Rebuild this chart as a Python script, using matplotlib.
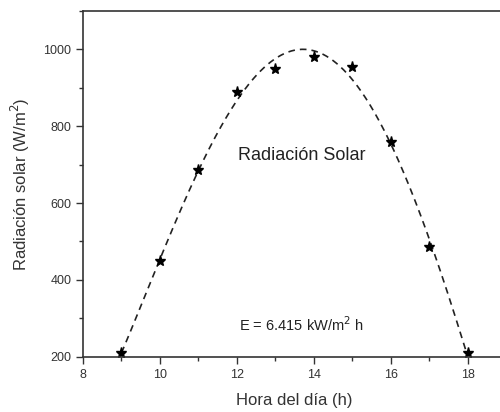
import numpy as np
import matplotlib
matplotlib.use("Agg")
import matplotlib.pyplot as plt
from matplotlib.ticker import MultipleLocator

# measured solar radiation per hour
hora = [9, 10, 11, 12, 13, 14, 15, 16, 17, 18]
radiacion = [210, 450, 685, 890, 948, 980, 955, 760, 485, 210]

plt.rcParams.update({"font.family": ["Liberation Sans", "DejaVu Sans"]})
fig = plt.figure(figsize=(5.0, 4.12), dpi=100)
ax = fig.add_axes([0.166, 0.1342, 0.846, 0.8391])

# smooth polynomial fit through the measurements
coef = np.polyfit(hora, radiacion, 4)
xf = np.linspace(9, 18, 300)
ax.plot(xf, np.polyval(coef, xf), ls=(0, (4, 3)), color="#222", lw=1.2)
ax.plot(hora, radiacion, ls="none", marker="*", ms=8, color="black")

ax.set_xlim(8, 19)
ax.set_ylim(200, 1100)
ax.xaxis.set_major_locator(MultipleLocator(2))
ax.xaxis.set_minor_locator(MultipleLocator(1))
ax.yaxis.set_major_locator(MultipleLocator(200))
ax.yaxis.set_minor_locator(MultipleLocator(100))
ax.tick_params(which="major", direction="out", length=5, width=1, labelsize=9, labelcolor="#333", color="#333")
ax.tick_params(which="minor", direction="out", length=3, width=1, color="#333")
for s in ax.spines.values():
    s.set_color("#333"); s.set_linewidth(1.2)

ax.set_xlabel("Hora del día (h)", fontsize=12, color="#333", labelpad=9)
ax.set_ylabel("Radiación solar (W/m$^2$)", fontsize=12, color="#333", labelpad=8)
ax.text(13.69, 725, "Radiación Solar", fontsize=13, color="#222", ha="center", va="center")
ax.text(13.67, 283, "E = 6.415 kW/m$^2$ h", fontsize=10.5, color="#222", ha="center", va="center")

fig.savefig("out.png", dpi=100)
